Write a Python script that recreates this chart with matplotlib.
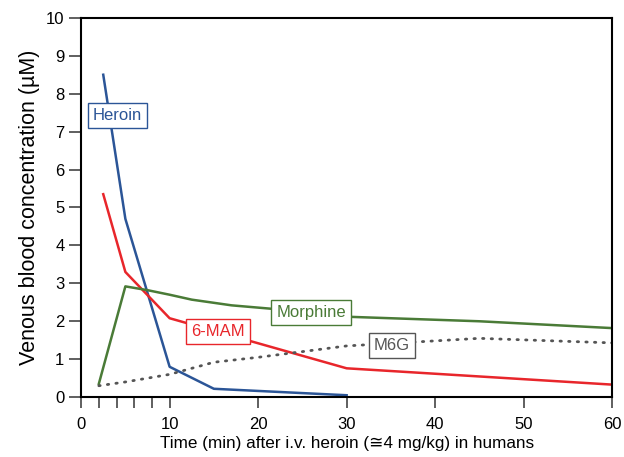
import matplotlib.pyplot as plt

plt.rcParams["font.family"] = ["Liberation Sans", "DejaVu Sans"]

heroin_t = [2.5, 5, 10, 15, 30]
heroin_c = [8.5, 4.7, 0.8, 0.22, 0.05]

mam_t = [2.5, 5, 10, 20, 30, 60]
mam_c = [5.35, 3.3, 2.08, 1.42, 0.76, 0.33]

morphine_t = [2, 5, 7.5, 10, 12.5, 17, 22, 30, 45, 60]
morphine_c = [0.35, 2.92, 2.82, 2.7, 2.57, 2.42, 2.32, 2.12, 2.0, 1.82]

m6g_t = [2, 5, 10, 15, 20, 30, 45, 60]
m6g_c = [0.3, 0.4, 0.6, 0.92, 1.05, 1.35, 1.55, 1.43]

BLUE = "#2b5597"
RED = "#e8262b"
GREEN = "#4a7b37"
GRAY = "#555555"

fig = plt.figure(figsize=(6.24, 4.57), dpi=100)
ax = fig.add_axes([0.13, 0.131, 0.851, 0.83])

ax.plot(heroin_t, heroin_c, color=BLUE, lw=1.8)
ax.plot(mam_t, mam_c, color=RED, lw=1.8)
ax.plot(morphine_t, morphine_c, color=GREEN, lw=1.8)
ax.plot(m6g_t, m6g_c, color=GRAY, lw=2.0, linestyle=(0, (0.5, 2.6)),
        dash_capstyle="round")

def label(x, y, text, color):
    ax.text(x, y, text, color=color, fontsize=12, ha="center", va="center",
            bbox=dict(boxstyle="square,pad=0.3", fc="white", ec=color, lw=1))

label(4.1, 7.43, "Heroin", BLUE)
label(15.5, 1.72, "6-MAM", RED)
label(26.0, 2.22, "Morphine", GREEN)
label(35.1, 1.37, "M6G", GRAY)

ax.set_xlim(0, 60)
ax.set_ylim(0, 10)
ax.set_xticks(range(0, 61, 10))
ax.set_xticks([2, 4, 6, 8], minor=True)
ax.set_yticks(range(0, 11))
ax.tick_params(axis="y", which="major", direction="out", length=9,
               width=1.2, labelsize=12, color="#444444", pad=3)
ax.tick_params(axis="x", which="both", direction="out", length=8,
               width=1.2, labelsize=12, color="#444444", pad=6)
for s in ax.spines.values():
    s.set_linewidth(1.5)

ax.set_xlabel("Time (min) after i.v. heroin (\u22454 mg/kg) in humans",
              fontsize=12.3, labelpad=3)
ax.set_ylabel("Venous blood concentration (\u00b5M)", fontsize=15.5, labelpad=4)

fig.savefig("out.png")
